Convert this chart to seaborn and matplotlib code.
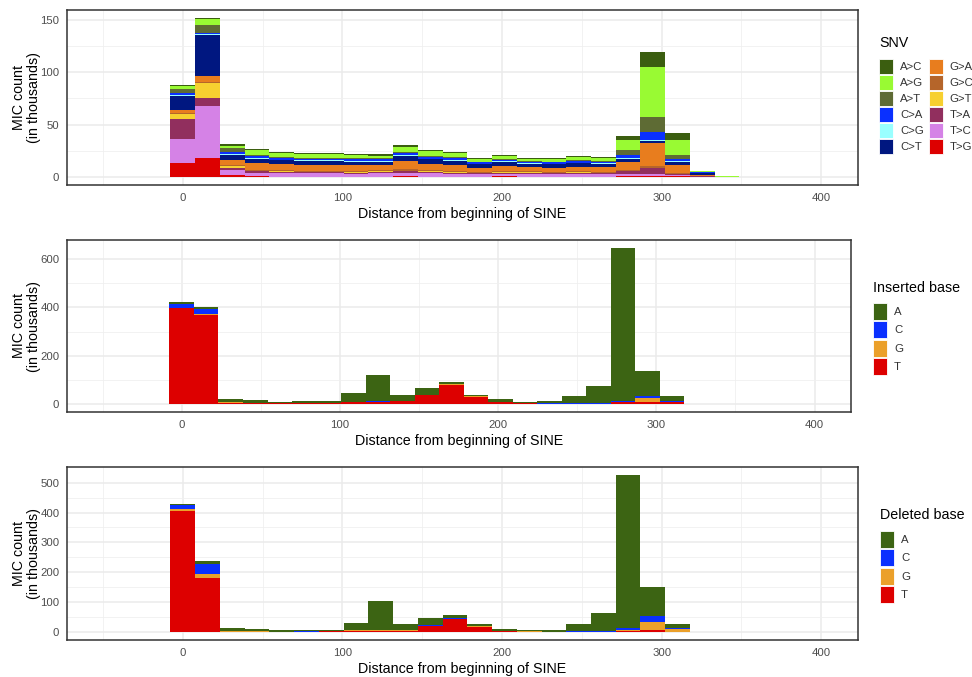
import numpy as np
import pandas as pd
import matplotlib
matplotlib.use("Agg")
import matplotlib.pyplot as plt
from matplotlib.patches import Patch
import seaborn as sns

# ---------------------------------------------------------------- data
# bin centres (distance from beginning of SINE, bp) and bin width
distance = [0, 15.5, 31, 46.5, 62, 77.5, 93, 108.5, 124, 139.5, 155, 170.5,
            186, 201.5, 217, 232.5, 248, 263.5, 279, 294.5, 310, 325.5, 341]
bin_width = 15.5

# SNV counts per bin (thousands)
snv_types = ["A>C", "A>G", "A>T", "C>A", "C>G", "C>T",
             "G>A", "G>C", "G>T", "T>A", "T>C", "T>G"]
snv_colors = ["#3B5E10", "#99FA33", "#5E6B34", "#0A30FF", "#99FFFF", "#001780",
              "#E87D1E", "#B5652A", "#F7D030", "#912F5E", "#D582E6", "#DD0000"]
snv_AC = [1.3, 1.0, 1.0, 0.9, 0.8, 0.8, 0.8, 0.8, 1.4, 1.5, 1.2, 1.0, 0.7, 0.8, 0.7, 0.7, 0.8, 0.8, 4.2, 15.0, 6.8, 0.2, 0.1]
snv_AG = [2.5, 6.0, 2.6, 4.5, 3.8, 3.9, 3.8, 3.7, 2.5, 5.0, 4.5, 3.8, 2.6, 3.0, 2.2, 2.5, 3.0, 3.2, 9.4, 47.0, 14.0, 1.0, 1.0]
snv_AT = [4.0, 7.0, 3.9, 1.2, 1.0, 1.0, 1.0, 1.0, 1.0, 1.3, 1.2, 1.0, 0.8, 1.0, 0.8, 0.8, 0.9, 0.9, 4.2, 14.6, 4.2, 0.3, 0.2]
snv_CA = [2.0, 1.0, 1.6, 1.5, 1.5, 1.4, 1.4, 1.4, 2.0, 1.8, 1.6, 1.5, 1.2, 1.4, 1.2, 1.2, 1.3, 1.3, 3.6, 8.0, 2.3, 0.4, 0.0]
snv_CG = [1.0, 1.5, 1.0, 0.8, 0.8, 0.8, 0.8, 0.8, 0.8, 1.0, 0.9, 0.9, 0.7, 0.8, 0.7, 0.7, 0.7, 0.7, 0.6, 1.0, 0.5, 0.2, 0.0]
snv_CT = [13.0, 39.0, 4.9, 4.0, 3.8, 3.5, 3.6, 3.5, 3.0, 4.5, 4.0, 4.0, 3.0, 3.5, 3.0, 3.0, 3.0, 3.0, 2.6, 2.0, 2.6, 2.0, 0.0]
snv_GA = [3.6, 5.6, 4.2, 6.5, 5.6, 5.5, 5.3, 5.2, 4.5, 8.0, 6.0, 5.5, 4.0, 5.0, 4.0, 4.0, 4.3, 4.5, 8.0, 22.0, 8.0, 0.8, 0.0]
snv_GC = [0.5, 1.2, 1.0, 1.2, 1.1, 1.0, 1.0, 1.0, 1.0, 1.3, 1.1, 1.0, 0.8, 1.0, 0.8, 0.8, 0.9, 0.8, 0.8, 1.0, 0.8, 0.2, 0.0]
snv_GT = [4.6, 13.7, 2.3, 0.7, 0.6, 0.6, 0.6, 0.6, 0.7, 0.8, 0.8, 0.6, 0.6, 0.6, 1.0, 0.6, 0.6, 0.5, 0.4, 0.6, 0.3, 0.1, 0.0]
snv_TA = [19.4, 8.1, 1.6, 1.2, 1.1, 1.0, 1.0, 1.0, 1.0, 1.2, 1.1, 1.0, 0.8, 0.9, 0.8, 0.8, 0.9, 0.8, 2.6, 5.5, 1.0, 0.4, 0.0]
snv_TC = [23.0, 49.3, 5.5, 3.5, 3.2, 3.0, 3.0, 2.8, 3.5, 3.5, 3.3, 2.8, 2.3, 2.5, 2.6, 2.5, 2.8, 2.4, 2.0, 2.0, 1.0, 0.2, 0.0]
snv_TG = [13.3, 18.5, 1.5, 0.6, 0.5, 0.5, 0.5, 0.5, 0.4, 0.6, 0.5, 0.5, 0.5, 0.6, 0.4, 0.4, 0.5, 0.4, 0.8, 1.0, 0.8, 0.1, 0.0]

# inserted / deleted bases per bin (thousands)
bases = ["A", "C", "G", "T"]
base_colors = ["#3C6413", "#0A30FF", "#EBA02A", "#DD0000"]
ins_A = [7, 6, 11.5, 11, 7, 8, 8, 35, 107, 22, 28, 7, 3.5, 10.5, 7, 12, 31, 68.5, 631, 105, 21, 0, 1]
ins_C = [16, 22, 0.5, 0.5, 0.5, 0.5, 0.5, 2, 3, 1, 1, 1, 0.5, 0.5, 0.5, 0.5, 0.5, 3, 7, 5, 2, 0, 0]
ins_G = [2, 5, 3, 0.5, 0.5, 0.5, 0.5, 1, 1, 1, 1, 4, 2, 2, 0.5, 0.5, 0.5, 0.5, 1, 16, 4, 2, 0]
ins_T = [396, 367, 5, 4, 3, 4, 4, 7, 8, 13, 37, 79, 31, 7, 3, 2, 2, 2, 7, 11, 7, 0, 0]

del_A = [3.9, 11.5, 8.7, 6.2, 4.2, 5.7, 2.2, 24, 96.5, 21.5, 23.5, 9.5, 6.5, 6.5, 3.2, 4, 25, 62, 512, 96, 14, 1.5, 0]
del_C = [14.5, 33.5, 0.3, 0.3, 0.3, 0.3, 0.3, 0.5, 0.5, 1, 1, 2, 0.5, 1, 0.3, 1, 2, 2, 6, 20, 3, 0, 0]
del_G = [5.6, 11, 3, 0.5, 0.5, 1, 0.5, 0.5, 2, 0.5, 0.5, 0.5, 2, 0.5, 2, 0.5, 0.5, 0.5, 5, 28, 9, 0, 0]
del_T = [406, 182, 1, 2, 1, 1, 3, 5, 5, 5, 21, 45, 17, 3, 0.5, 0.5, 0.5, 0.5, 3, 7, 1, 0, 0]

x_ticks = [0, 100, 200, 300, 400]
x_label = "Distance from beginning of SINE"
y_label = "MIC count\n(in thousands)"


def long_frame(names, series):
    rows = []
    for name, vals in zip(names, series):
        for d, v in zip(distance, vals):
            rows.append((d, name, float(v)))
    return pd.DataFrame(rows, columns=["distance", "type", "count"])


snv_df = long_frame(snv_types, [snv_AC, snv_AG, snv_AT, snv_CA, snv_CG, snv_CT,
                                snv_GA, snv_GC, snv_GT, snv_TA, snv_TC, snv_TG])
ins_df = long_frame(bases, [ins_A, ins_C, ins_G, ins_T])
del_df = long_frame(bases, [del_A, del_C, del_G, del_T])

# ---------------------------------------------------------------- style
sns.set_theme(style="white")
plt.rcParams["font.family"] = ["Liberation Sans", "DejaVu Sans"]

W, H = 972, 677
fig = plt.figure(figsize=(W / 100, H / 100), dpi=100)

bin_lo = distance[0] - bin_width / 2
bin_hi = distance[-1] + bin_width / 2

TICK_FS = 8.2
TITLE_FS = 10.3
LEG_FS = 8.2
YLABEL_RIGHT = 41  # right edge of the y-axis title block, px


def px_rect(left, top, right, bottom):
    return [left / W, 1 - bottom / H, (right - left) / W, (bottom - top) / H]


def handle_height(h_px, fs_px):
    # legend patch height = fs*hh - 0.35*fs*(hh - 0.7); solve for hh
    return (h_px / fs_px - 0.245) / 0.65


def draw_panel(rect, df, order, colors, y_major, y_minor, legend_title,
               title_pos, key_top, key_h, key_gap, ncol, colspace):
    ax = fig.add_axes(px_rect(*rect))
    sns.histplot(data=df, x="distance", weights="count", hue="type",
                 hue_order=order, palette=colors, multiple="stack",
                 binwidth=bin_width, binrange=(bin_lo, bin_hi),
                 linewidth=0, alpha=1, legend=False, ax=ax)
    totals = df.groupby("distance")["count"].sum().max()
    ax.set_ylim(-0.05 * totals, 1.05 * totals)
    ax.set_xlim(-72.5, 423)
    ax.set_xticks(x_ticks)
    ax.set_xticks([-50, 50, 150, 250, 350], minor=True)
    ax.set_yticks(y_major)
    ax.set_yticks(y_minor, minor=True)
    ax.grid(True, which="major", color="#EBEBEB", linewidth=1.1)
    ax.grid(True, which="minor", color="#EFEFEF", linewidth=0.55)
    ax.set_axisbelow(True)
    for s in ax.spines.values():
        s.set_color("#333333")
        s.set_linewidth(1.1)
    ax.tick_params(axis="both", which="major", direction="out", length=3.5,
                   width=1.0, color="#333333", labelsize=TICK_FS,
                   labelcolor="#4D4D4D", pad=2)
    ax.tick_params(axis="both", which="minor", length=0)
    ax.set_xlabel(x_label, fontsize=TITLE_FS, color="black", labelpad=3)
    ax.set_ylabel(y_label, fontsize=TITLE_FS, color="black",
                  linespacing=1.05)
    left, _, right, _ = rect
    ax.yaxis.set_label_coords(-(left - YLABEL_RIGHT) / (right - left), 0.5)

    tx, ty = title_pos
    fig.text(tx / W, 1 - ty / H, legend_title, fontsize=TITLE_FS,
             color="black", ha="left", va="top")
    handles = [Patch(facecolor=c, edgecolor="white", linewidth=0.6, label=n)
               for n, c in zip(order, colors)]
    fs = LEG_FS * 100 / 72
    fig.legend(handles=handles, loc="upper left",
               bbox_to_anchor=(tx / W, 1 - key_top / H), ncol=ncol,
               frameon=False, fontsize=LEG_FS, borderpad=0, borderaxespad=0,
               handlelength=14 / fs, handleheight=handle_height(key_h, fs),
               handletextpad=7 / fs, labelspacing=key_gap / fs,
               columnspacing=colspace / fs, labelcolor="#333333")
    return ax


draw_panel((67, 10, 858, 185), snv_df, snv_types, snv_colors,
           [0, 50, 100, 150], [25, 75, 125], "SNV", (879, 36), 59, 15, 1.0,
           2, 5)
draw_panel((67, 240, 851, 412), ins_df, bases, base_colors,
           [0, 200, 400, 600], [100, 300, 500], "Inserted base", (873, 281),
           303, 17, 1.3, 1, 5)
draw_panel((67, 467, 858, 640), del_df, bases, base_colors,
           [0, 100, 200, 300, 400, 500], [50, 150, 250, 350, 450],
           "Deleted base", (880, 508), 531, 17, 1.3, 1, 5)

fig.savefig("out.png", dpi=100)
